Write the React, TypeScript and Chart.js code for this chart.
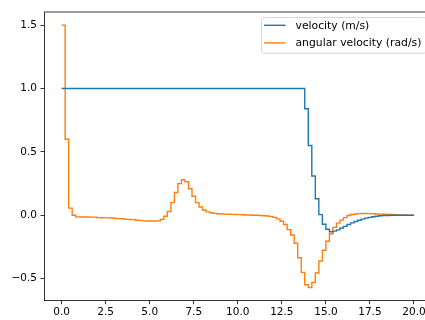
import React, { useEffect, useRef } from "react";
import { Chart, registerables } from "chart.js";

Chart.register(...registerables);

// time axis (s)
const time = [
  0, 0.2, 0.4, 0.6, 0.8, 1, 1.2, 1.4, 1.6, 1.8,
  2, 2.2, 2.4, 2.6, 2.8, 3, 3.2, 3.4, 3.6, 3.8,
  4, 4.2, 4.4, 4.6, 4.8, 5, 5.2, 5.4, 5.6, 5.8,
  6, 6.2, 6.4, 6.6, 6.8, 7, 7.2, 7.4, 7.6, 7.8,
  8, 8.2, 8.4, 8.6, 8.8, 9, 9.2, 9.4, 9.6, 9.8,
  10, 10.2, 10.4, 10.6, 10.8, 11, 11.2, 11.4, 11.6, 11.8,
  12, 12.2, 12.4, 12.6, 12.8, 13, 13.2, 13.4, 13.6, 13.8,
  14, 14.2, 14.4, 14.6, 14.8, 15, 15.2, 15.4, 15.6, 15.8,
  16, 16.2, 16.4, 16.6, 16.8, 17, 17.2, 17.4, 17.6, 17.8,
  18, 18.2, 18.4, 18.6, 18.8, 19, 19.2, 19.4, 19.6, 19.8,
  20,
];

const velocity = [
  1, 1, 1, 1, 1, 1, 1, 1, 1, 1,
  1, 1, 1, 1, 1, 1, 1, 1, 1, 1,
  1, 1, 1, 1, 1, 1, 1, 1, 1, 1,
  1, 1, 1, 1, 1, 1, 1, 1, 1, 1,
  1, 1, 1, 1, 1, 1, 1, 1, 1, 1,
  1, 1, 1, 1, 1, 1, 1, 1, 1, 1,
  1, 1, 1, 1, 1, 1, 1, 1, 1, 0.84,
  0.55, 0.31, 0.13, 0.005, -0.07, -0.11, -0.13, -0.125, -0.115, -0.1,
  -0.087, -0.073, -0.06, -0.049, -0.039, -0.03, -0.022, -0.016, -0.011, -0.007,
  -0.004, -0.002, -0.001, 0, 0, 0, 0, 0, 0, 0,
  0,
];

const angularVelocity = [
  1.5, 0.6, 0.057, 0.0, -0.012, -0.013, -0.013, -0.013, -0.014, -0.014,
  -0.018, -0.019, -0.02, -0.02, -0.021, -0.025, -0.026, -0.027, -0.032, -0.033,
  -0.034, -0.039, -0.04, -0.044, -0.045, -0.045, -0.045, -0.044, -0.032, -0.007,
  0.03, 0.1, 0.18, 0.25, 0.28, 0.265, 0.21, 0.15, 0.1, 0.065,
  0.04, 0.027, 0.02, 0.015, 0.012, 0.01, 0.009, 0.008, 0.007, 0.006,
  0.005, 0.004, 0.003, 0.002, 0.001, 0, -0.001, -0.003, -0.006, -0.01,
  -0.016, -0.028, -0.047, -0.073, -0.113, -0.155, -0.22, -0.335, -0.45, -0.548,
  -0.57, -0.53, -0.455, -0.36, -0.276, -0.205, -0.145, -0.095, -0.062, -0.038,
  -0.018, -0.002, 0.006, 0.01, 0.013, 0.014, 0.014, 0.013, 0.012, 0.01,
  0.009, 0.008, 0.007, 0.006, 0.005, 0.004, 0.003, 0.002, 0.001, 0.001,
  0.001,
];

const seriesLabels = ["velocity (m/s)", "angular velocity (rad/s)"];
const seriesColors = ["#1f77b4", "#ff7f0e"];
const xTicks = [0, 2.5, 5, 7.5, 10, 12.5, 15, 17.5, 20];
const yTicks = [-0.5, 0, 0.5, 1, 1.5];
const xRange = [-1, 21];
const yRange = [-0.6735, 1.6035];

const FONT = "'DejaVu Sans', sans-serif";
const fmt = (v: number) => v.toFixed(1).replace("-", "\u2212");

const framePlugin = {
  id: "frame",
  afterDraw(chart: any) {
    const { ctx, chartArea } = chart;
    ctx.save();
    ctx.strokeStyle = "#000";
    ctx.lineWidth = 0.8;
    ctx.beginPath();
    ctx.moveTo(chartArea.left, chartArea.top);
    ctx.lineTo(chartArea.right, chartArea.top);
    ctx.lineTo(chartArea.right, chartArea.bottom);
    ctx.stroke();

    // legend (matplotlib-like, upper right inside axes)
    const fs = 10.8;
    const boxL = 261.5;
    const boxT = 17.5;
    const boxB = 53.3;
    const boxR = chartArea.right - 5;
    const r = 3;
    ctx.beginPath();
    ctx.moveTo(boxL + r, boxT);
    ctx.lineTo(boxR - r, boxT);
    ctx.quadraticCurveTo(boxR, boxT, boxR, boxT + r);
    ctx.lineTo(boxR, boxB - r);
    ctx.quadraticCurveTo(boxR, boxB, boxR - r, boxB);
    ctx.lineTo(boxL + r, boxB);
    ctx.quadraticCurveTo(boxL, boxB, boxL, boxB - r);
    ctx.lineTo(boxL, boxT + r);
    ctx.quadraticCurveTo(boxL, boxT, boxL + r, boxT);
    ctx.closePath();
    ctx.fillStyle = "rgba(255,255,255,0.8)";
    ctx.fill();
    ctx.strokeStyle = "#cccccc";
    ctx.lineWidth = 0.8;
    ctx.stroke();

    ctx.font = `${fs}px ${FONT}`;
    ctx.textBaseline = "middle";
    ctx.textAlign = "left";
    seriesLabels.forEach((lab, i) => {
      const y = 25.3 + i * 17.6;
      ctx.strokeStyle = seriesColors[i];
      ctx.lineWidth = 1.4;
      ctx.beginPath();
      ctx.moveTo(264, y);
      ctx.lineTo(285.5, y);
      ctx.stroke();
      ctx.fillStyle = "#000";
      ctx.fillText(lab, 295.5, y + 0.5);
    });
    ctx.restore();
  },
};

export default function App() {
  const ref = useRef<HTMLCanvasElement | null>(null);

  useEffect(() => {
    if (!ref.current) return;
    const series = [velocity, angularVelocity];
    const chart = new Chart(ref.current, {
      type: "line",
      data: {
        datasets: series.map((s, i) => ({
          label: seriesLabels[i],
          data: time.map((t, j) => ({ x: t, y: s[j] })),
          borderColor: seriesColors[i],
          backgroundColor: seriesColors[i],
          borderWidth: 1.4,
          pointRadius: 0,
          stepped: "before" as const,
          fill: false,
          tension: 0,
        })),
      },
      options: {
        animation: false,
        responsive: false,
        events: [],
        layout: { padding: { top: 12, right: 8.4, left: 0, bottom: 0 } },
        plugins: { legend: { display: false }, tooltip: { enabled: false } },
        scales: {
          x: {
            type: "linear",
            min: xRange[0],
            max: xRange[1],
            afterBuildTicks: (s: any) => {
              s.ticks = xTicks.map((v) => ({ value: v }));
            },
            afterFit: (s: any) => {
              s.height = 19.3;
            },
            ticks: {
              callback: (v: any) => fmt(Number(v)),
              font: { family: FONT, size: 10.5 },
              color: "#000",
              padding: 2,
              maxRotation: 0,
              autoSkip: false,
            },
            grid: {
              display: true,
              drawOnChartArea: false,
              drawTicks: true,
              tickLength: 3.5,
              tickColor: "#000",
              tickWidth: 0.8,
            },
            border: { display: true, color: "#000", width: 0.8 },
          },
          y: {
            type: "linear",
            min: yRange[0],
            max: yRange[1],
            afterBuildTicks: (s: any) => {
              s.ticks = yTicks.map((v) => ({ value: v }));
            },
            afterFit: (s: any) => {
              s.width = 44;
            },
            ticks: {
              callback: (v: any) => fmt(Number(v)),
              font: { family: FONT, size: 10.5 },
              color: "#000",
              padding: 3.5,
              autoSkip: false,
            },
            grid: {
              display: true,
              drawOnChartArea: false,
              drawTicks: true,
              tickLength: 3.5,
              tickColor: "#000",
              tickWidth: 0.8,
            },
            border: { display: true, color: "#000", width: 0.8 },
          },
        },
      },
      plugins: [framePlugin],
    });
    return () => chart.destroy();
  }, []);

  return (
    <div
      style={{
        position: "fixed",
        left: 0,
        top: 0,
        width: 425,
        height: 320,
        overflow: "hidden",
        background: "#fff",
      }}
    >
      <canvas ref={ref} width={440} height={320} style={{ display: "block" }} />
    </div>
  );
}
